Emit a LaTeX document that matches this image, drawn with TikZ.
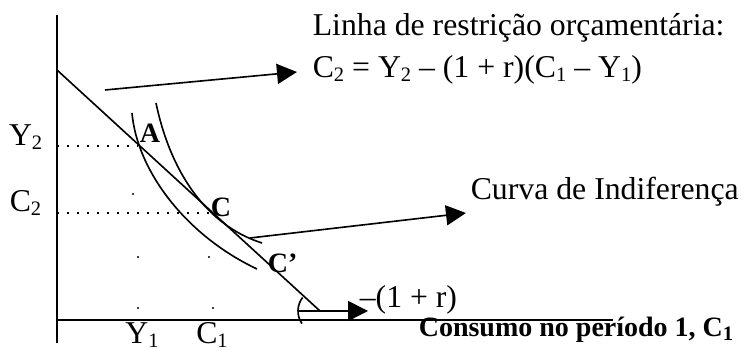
\documentclass[tikz,border=0pt]{standalone}
\usepackage{fontspec}
\setmainfont{Liberation Serif}
\usetikzlibrary{arrows.meta}
\newcommand{\lowidx}[1]{\raisebox{-0.12em}{\fontsize{8.2}{9}\selectfont #1}}
\tikzset{
  txt/.style={inner sep=0pt, font=\fontsize{12.7}{15}\selectfont},
  bld/.style={inner sep=0pt, font=\fontsize{11.2}{13}\selectfont\bfseries},
  pointer/.style={-{Triangle[length=8pt,width=8pt]}},
  guide/.style={dash pattern=on 0.6pt off 3.4pt, line width=0.6pt},
}
\begin{document}
\begin{tikzpicture}[x=0.4pt, y=-0.4pt, line width=0.65pt]
    \useasboundingbox (0,0) rectangle (748,350);

    % Axes
    \coordinate (ytop) at (57,15);
    \coordinate (ybot) at (57,343);
    \coordinate (xl) at (57,320);
    \coordinate (xr) at (613,320);
    \draw[line width=0.8pt] (ytop) -- (ybot);
    \draw[line width=0.8pt] (xl) -- (xr);

    % Budget line and points
    \coordinate (b0) at (57,70);
    \coordinate (b1) at (320,311);
    \coordinate (A) at (138,146);
    \coordinate (C) at (212,213);
    \draw (b0) -- (b1);

    % Guides to the axes
    \coordinate (y2) at (57,146);
    \coordinate (c2) at (57,213);
    \draw[guide] (y2) -- (A);
    \draw[guide] (c2) -- (C);
    \foreach \x/\y in {133/194, 138/257, 209/257, 138/308, 213/308} {
        \fill (\x,\y) circle (1.1);
      }

    % Indifference curves
    \draw (132,113) .. controls (137,170) and (185,235) .. (257,269);
    \draw (156,103) .. controls (170,170) and (205,225) .. (262,243);

    % Axis labels
    \node[txt, anchor=base east] (ly2) at (43,146) {Y\lowidx{2}};
    \node[txt, anchor=base east] (lc2) at (42,212) {C\lowidx{2}};
    \node[txt, anchor=base] (ly1) at (142,344) {Y\lowidx{1}};
    \node[txt, anchor=base] (lc1) at (212,344) {C\lowidx{1}};
    \node[bld, anchor=base west] (lx) at (418,337) {Consumo no período 1, C\lowidx{\bfseries 1}};

    % Point labels
    \node[bld, anchor=base west] (la) at (139,143) {A};
    \node[bld, anchor=base west] (lc) at (210,217) {C};
    \node[bld, anchor=base west] (lcp) at (267,273) {C’};

    % Budget line annotation
    \node[txt, anchor=base west] (title) at (312,36) {Linha de restrição orçamentária:};
    \node[txt, anchor=west] (eq) at (312,70) {C\lowidx{2} = Y\lowidx{2} – (1 + r)(C\lowidx{1} – Y\lowidx{1})};
    \coordinate (ba) at (105,90);
    \coordinate (bt) at (297,72);
    \draw[pointer] (ba) -- (bt);

    % Indifference curve annotation
    \node[txt, anchor=base west] (ic) at (470,200) {Curva de Indiferença};
    \coordinate (ia) at (250,238);
    \coordinate (it) at (466,213);
    \draw[pointer] (ia) -- (it);

    % Slope
    \draw (b1) ++(218:22) arc[start angle=218, end angle=145, radius=22];
    \coordinate (sa) at (298,311);
    \coordinate (st) at (368,311);
    \draw[pointer] (sa) -- (st);
    \node[txt, anchor=base west] (slope) at (359,308) {–(1 + r)};
  \end{tikzpicture}
\end{document}
